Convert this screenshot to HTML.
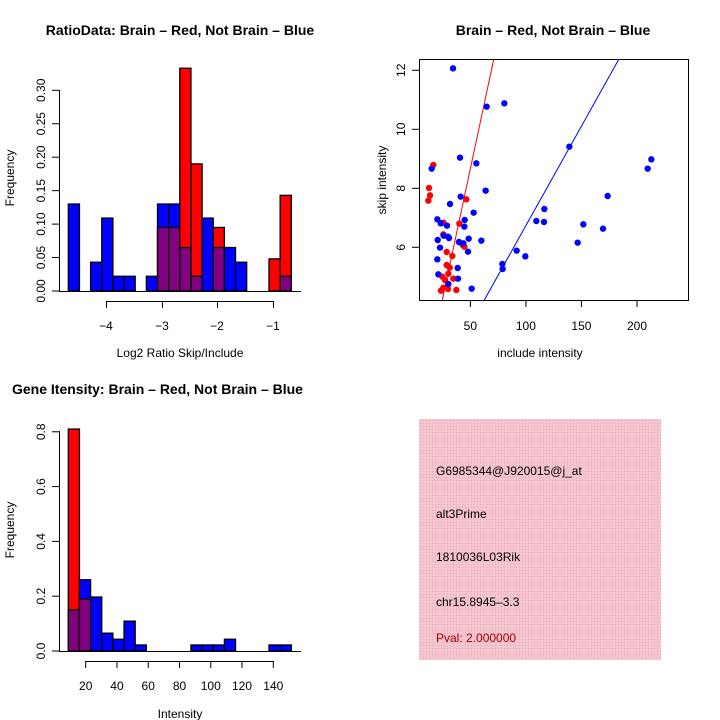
<!DOCTYPE html>
<html><head><meta charset="utf-8"><style>
body{margin:0;background:#fff}
svg{display:block}
text{font-family:"Liberation Sans",sans-serif;fill:#000}
</style></head><body>
<svg id="s" width="720" height="720" xmlns="http://www.w3.org/2000/svg">
<defs>
<pattern id="pk" width="3" height="3" patternUnits="userSpaceOnUse">
<rect width="3" height="3" fill="#f4c2cc"/><rect width="1" height="1" fill="#e8b0bc"/><rect x="1.5" y="1.5" width="1" height="1" fill="#fbd6dc"/>
</pattern>
</defs>
<text x="180" y="35" font-size="14" font-weight="bold" text-anchor="middle">RatioData: Brain – Red, Not Brain – Blue</text>
<text x="553" y="35" font-size="14" font-weight="bold" text-anchor="middle">Brain – Red, Not Brain – Blue</text>
<text x="12" y="394" font-size="14" font-weight="bold">Gene Itensity: Brain – Red, Not Brain – Blue</text>
<g stroke="#000" stroke-width="1" fill="none">
<line x1="59.5" y1="90" x2="59.5" y2="291"/>
<line x1="59" y1="291.5" x2="301" y2="291.5"/>
<line x1="106" y1="301.5" x2="274" y2="301.5"/>
<line x1="106.5" y1="301" x2="106.5" y2="308"/><line x1="162.5" y1="301" x2="162.5" y2="308"/><line x1="217.5" y1="301" x2="217.5" y2="308"/><line x1="273.5" y1="301" x2="273.5" y2="308"/>
</g>
<g font-size="12" text-anchor="middle">
<text x="106" y="330">−4</text><text x="162" y="330">−3</text><text x="217" y="330">−2</text><text x="273" y="330">−1</text>
<text x="180" y="357">Log2 Ratio Skip/Include</text>
<text transform="translate(14,178) rotate(-90)">Frequency</text>
<text transform="translate(14,530) rotate(-90)">Frequency</text>
<text x="180" y="718">Intensity</text>
<text x="540" y="357">include intensity</text>
<text transform="translate(386,180) rotate(-90)">skip intensity</text>
</g>
<rect x="419.5" y="59.5" width="269" height="241" fill="none" stroke="#000"/>
<g stroke="#000" fill="none">
<line x1="59.5" y1="431" x2="59.5" y2="651"/>
<line x1="59" y1="651.5" x2="301" y2="651.5"/>
<line x1="85" y1="661.5" x2="274" y2="661.5"/>
</g>
<rect x="419" y="419" width="242" height="241" fill="url(#pk)"/>
<g font-size="12">
<text x="436" y="475">G6985344@J920015@j_at</text>
<text x="436" y="518">alt3Prime</text>
<text x="436" y="561">1810036L03Rik</text>
<text x="436" y="606">chr15.8945–3.3</text>
<text x="436" y="642" style="fill:#a00000">Pval: 2.000000</text>
</g>
</svg>
<script>
const NS="http://www.w3.org/2000/svg",s=document.getElementById('s');
function el(t,a,txt){const e=document.createElementNS(NS,t);for(const k in a)e.setAttribute(k,a[k]);if(txt)e.textContent=txt;s.appendChild(e);return e;}
function hist(data,base,scale){
 for(const [i,b,r] of data){
  const x=68.3+11.15*i,w=11.15;
  const top=Math.max(b,r),mn=Math.min(b,r);
  const c=b>r?'#0000ff':'#ff0000';
  el('rect',{x:x,y:base-top*scale,width:w,height:top*scale,fill:c,stroke:'#000','stroke-width':1.3});
  if(mn>0)el('rect',{x:x,y:base-mn*scale,width:w,height:mn*scale,fill:'#800080',stroke:'#000','stroke-width':1.3});
 }
}
hist([[0,.13,0],[2,.043,0],[3,.109,0],[4,.022,0],[5,.022,0],[7,.022,0],[8,.13,.095],[9,.13,.095],[10,.065,.333],[11,.022,.19],[12,.109,0],[13,.065,.095],[14,.065,0],[15,.043,0],[18,0,.048],[19,.022,.143]],291,669);
hist([[0,.15,.81],[1,.26,.19],[2,.197,0],[3,.065,0],[4,.043,0],[5,.109,0],[6,.022,0],[11,.022,0],[12,.022,0],[13,.022,0],[14,.043,0],[18,.022,0],[19,.022,0]],651,274);
["0.00","0.05","0.10","0.15","0.20","0.25","0.30"].forEach((t,i)=>{const y=291-669*0.05*i;
 el('line',{x1:52,x2:59,y1:y,y2:y,stroke:'#000'});
 el('text',{transform:`translate(45,${y}) rotate(-90)`,'font-size':12,'text-anchor':'middle'},t);});
["0.0","0.2","0.4","0.6","0.8"].forEach((t,i)=>{const y=651-274*0.2*i;
 el('line',{x1:52,x2:59,y1:y,y2:y,stroke:'#000'});
 el('text',{transform:`translate(45,${y}) rotate(-90)`,'font-size':12,'text-anchor':'middle'},t);});
[20,40,60,80,100,120,140].forEach(v=>{const x=85.7+(v-20)*1.5633;
 el('line',{x1:x,x2:x,y1:661,y2:668,stroke:'#000'});
 el('text',{x:x,y:690,'font-size':12,'text-anchor':'middle'},String(v));});
[50,100,150,200].forEach(v=>{const x=414.8+v*1.111;
 el('line',{x1:x,x2:x,y1:300,y2:307,stroke:'#000'});
 el('text',{x:x,y:330,'font-size':12,'text-anchor':'middle'},String(v));});
[6,8,10,12].forEach(v=>{const y=247.3-(v-6)*29.5;
 el('line',{x1:412,x2:419,y1:y,y2:y,stroke:'#000'});
 el('text',{transform:`translate(405,${y}) rotate(-90)`,'font-size':12,'text-anchor':'middle'},String(v));});
el('line',{x1:442.3,y1:300,x2:493.7,y2:59.5,stroke:'#ff0000'});
el('line',{x1:484.3,y1:300,x2:618.7,y2:59.5,stroke:'#0000ff'});
const B=[[219,55],[320,170],[373,160],[568,290],[814,328],[803,356],[240,323],[289,340],[155,356],[317,422],[683,438],[242,440],[210,462],[281,488],[493,477],[172,508],[469,513],[492,516],[610,523],[182,520],[201,527],[254,510],[253,530],[669,536],[191,557],[204,560],[173,570],[207,564],[266,566],[304,572],[237,576],[250,580],[593,578],[180,593],[264,605],[410,602],[436,619],[172,628],[367,642],[368,657],[233,654],[175,673],[234,686],[205,702],[275,716]];
const R=[[160,345],[147,414],[150,436],[145,452],[259,448],[190,518],[238,521],[190,553],[253,590],[200,606],[217,618],[200,645],[209,653],[205,671],[187,680],[195,690],[220,686],[190,713],[183,722],[204,717],[229,720],[248,585]];
R.forEach(p=>el('circle',{cx:380+p[0]/3,cy:50+p[1]/3,r:3.2,fill:'#ff0000'}));
B.forEach(p=>el('circle',{cx:380+p[0]/3,cy:50+p[1]/3,r:3.2,fill:'#0000ff'}));
</script>
</body></html>
